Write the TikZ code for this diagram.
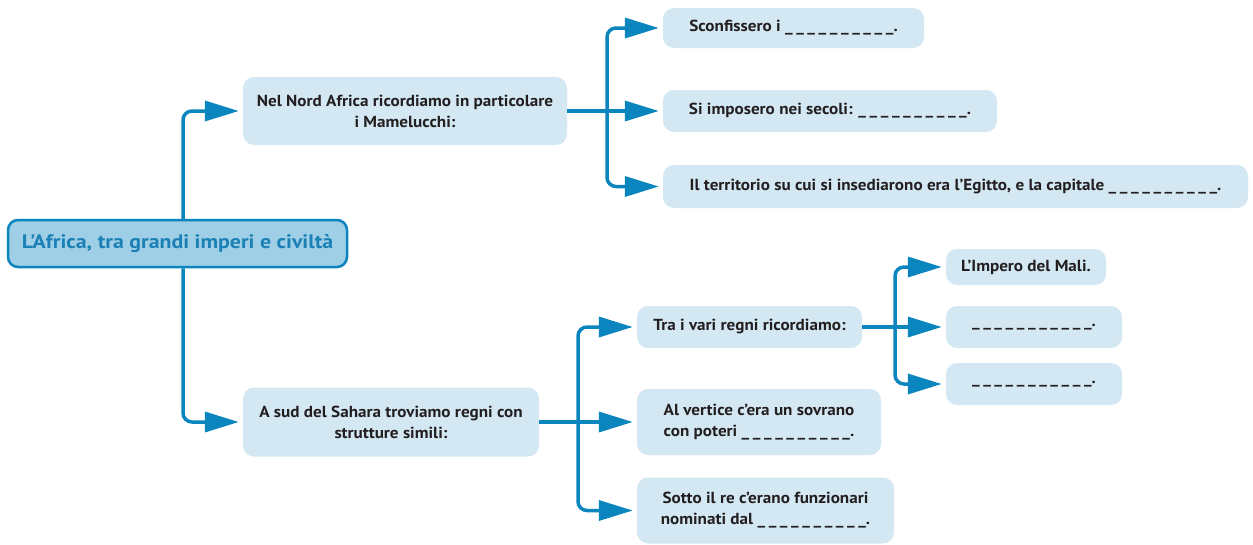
\documentclass[tikz,border=0pt]{standalone}
\usepackage{fontspec}
\setmainfont{PT Sans}[FakeStretch=1.07]
\newfontfamily\titlefont{PT Sans}[FakeStretch=1.12]
\definecolor{sky} {HTML}{D3E8F3}
\definecolor{lake}{HTML}{9FCFE6}
\definecolor{sea} {HTML}{0B85BD}
\definecolor{deep}{HTML}{1B80B5}
\definecolor{ink} {HTML}{231F20}
\usetikzlibrary{arrows.meta}
\tikzset{
  titlebox/.style={draw=sea,line width=2.5pt,rounded corners=10pt,fill=lake,
                   text=deep,inner sep=0pt,
                   font=\titlefont\fontsize{19.5}{22}\selectfont\bfseries},
  notebox/.style={fill=sky,rounded corners=11pt,text=ink,inner sep=0pt,
                  align=center,font=\fontsize{16}{21}\selectfont\bfseries},
  flow/.style={draw=sea,line width=3.5pt,rounded corners=9pt,
               -{Triangle[length=34pt,width=20pt]},shorten >=4pt}
}
\newcommand{\dashbit}{\_\hspace{3.6pt}}
\newcommand{\gapline}{\dashbit\dashbit\dashbit\dashbit\dashbit%
                      \dashbit\dashbit\dashbit\dashbit\_}

\begin{document}
\begin{tikzpicture}[x=1pt,y=-1pt]
  \useasboundingbox (0,0) rectangle (1253,544);
  \node[titlebox,minimum width=339pt,minimum height=47pt] (root) at (177.5,243.5)
    {L'Africa, tra grandi imperi e civiltà};
  \node[notebox,minimum width=324pt,minimum height=68pt] (nord) at (405,111)
    {Nel Nord Africa ricordiamo in particolare\\i Mamelucchi:};
  \node[notebox,minimum width=296pt,minimum height=69pt] (sud) at (391,422)
    {A sud del Sahara troviamo regni con\\strutture simili:};
  \node[notebox,minimum width=261pt,minimum height=40pt] (vinti) at (793.5,28)
    {Sconfissero i \gapline.};
  \node[notebox,minimum width=334pt,minimum height=42pt] (secoli) at (830,111)
    {Si imposero nei secoli: \gapline.};
  \node[notebox,minimum width=585pt,minimum height=43pt] (egitto) at (955.5,186.5)
    {Il territorio su cui si insediarono era l'Egitto, e la capitale \gapline.};
  \node[notebox,minimum width=225pt,minimum height=42pt] (regni) at (749.5,327)
    {Tra i vari regni ricordiamo:};
  \node[notebox,minimum width=244pt,minimum height=66pt] (sovrano) at (759,422)
    {Al vertice c'era un sovrano\\con poteri \gapline.};
  \node[notebox,minimum width=257pt,minimum height=66pt] (funz) at (765.5,510.5)
    {Sotto il re c'erano funzionari\\nominati dal \gapline.};
  \node[notebox,minimum width=160pt,minimum height=36pt] (mali) at (1026,267)
    {L'Impero del Mali.};
  \node[notebox,minimum width=176pt,minimum height=42pt] (regnoB) at (1034,327)
    {\dashbit\gapline.};
  \node[notebox,minimum width=176pt,minimum height=42pt] (regnoC) at (1034,384)
    {\dashbit\gapline.};

  \coordinate (knotN) at (607,111);
  \coordinate (knotS) at (578,422);
  \coordinate (knotR) at (895,327);

  \draw[flow] ([xshift=5.5pt]root.north) |- (nord.west);
  \draw[flow] ([xshift=5.5pt]root.south) |- (sud.west);
  \draw[flow] (nord.east) -- (secoli.west);
  \draw[flow] (knotN) |- (vinti.west);
  \draw[flow] (knotN) |- (egitto.west);
  \draw[flow] (sud.east) -- (sovrano.west);
  \draw[flow] (knotS) |- (regni.west);
  \draw[flow] (knotS) |- (funz.west);
  \draw[flow] (regni.east) -- (regnoB.west);
  \draw[flow] (knotR) |- (mali.west);
  \draw[flow] (knotR) |- (regnoC.west);
\end{tikzpicture}
\end{document}
